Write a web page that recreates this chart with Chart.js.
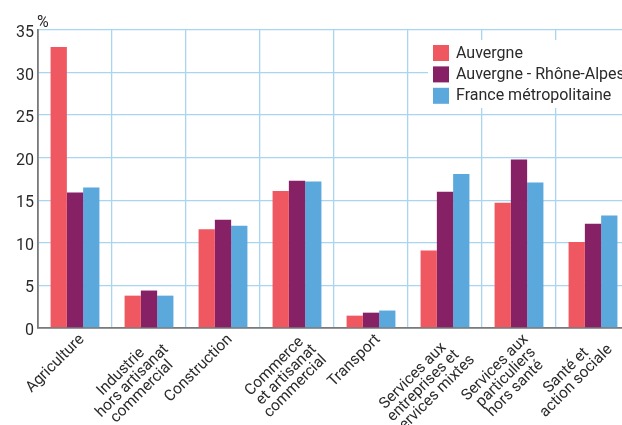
<!DOCTYPE html>
<html>
<head>
<meta charset="utf-8">
<script src="https://cdn.jsdelivr.net/npm/chart.js@4.4.1/dist/chart.umd.min.js"></script>
<style>
  html, body { margin: 0; padding: 0; background: #fff; overflow: hidden; }
  #wrap { position: relative; width: 640px; height: 425px; }
</style>
</head>
<body>
<div id="wrap"><canvas id="c"></canvas></div>
<script>
// ---- data ----
const categories = [
  ["Agriculture"],
  ["Industrie", "hors artisanat", "commercial"],
  ["Construction"],
  ["Commerce", "et artisanat", "commercial"],
  ["Transport"],
  ["Services aux", "entreprises et", "services mixtes"],
  ["Services aux", "particuliers", "hors santé"],
  ["Santé et", "action sociale"]
];
const seriesNames = ["Auvergne", "Auvergne - Rhône-Alpes", "France métropolitaine"];
const auvergne = [33.0, 3.8, 11.6, 16.1, 1.45, 9.1, 14.7, 10.1];
const auraValues = [15.9, 4.4, 12.7, 17.3, 1.8, 16.0, 19.8, 12.25];
const franceValues = [16.5, 3.8, 12.0, 17.2, 2.05, 18.1, 17.1, 13.2];
const yTicks = [0, 5, 10, 15, 20, 25, 30, 35];
const unitLabel = "%";

const colors = ["#EF5761", "#862166", "#5AA8DC"];
const FONT = "Roboto, 'Liberation Sans', Arial, sans-serif";
const TEXT = "#2a2a2a";
const GRID = "#a9d5f1";

// center multi-line rotated labels by padding with no-break spaces
const mctx = document.createElement('canvas').getContext('2d');
const XFONT = 15.5;
function centeredLines(lines) {
  mctx.font = XFONT + "px " + FONT;
  const sp = mctx.measureText("\u00A0").width;
  const widths = lines.map(l => mctx.measureText(l).width);
  const maxW = Math.max(...widths);
  return lines.map((l, i) => l + "\u00A0".repeat(Math.round((maxW - widths[i]) / 2 / sp)));
}

const legendPlugin = {
  id: 'boxLegend',
  afterDatasetsDraw(chart) {
    const ctx = chart.ctx;
    const a = chart.chartArea;
    ctx.save();
    ctx.fillStyle = "#fff";
    ctx.fillRect(a.left + 390, a.top + 10, 260, 68);
    chart.data.datasets.forEach((ds, i) => {
      const y = a.top + 15 + i * 21.4;
      ctx.fillStyle = ds.backgroundColor;
      ctx.fillRect(a.left + 395, y, 16, 16);
      ctx.fillStyle = TEXT;
      ctx.font = "16px " + FONT;
      ctx.textBaseline = "middle";
      ctx.textAlign = "left";
      ctx.fillText(ds.label, a.left + 418, y + 8.5);
    });
    // unit label above the y axis
    ctx.font = "16px " + FONT;
    ctx.textBaseline = "alphabetic";
    ctx.fillStyle = TEXT;
    ctx.fillText(unitLabel, a.left - 1, a.top - 3);
    ctx.restore();
  }
};

new Chart(document.getElementById('c'), {
  type: 'bar',
  data: {
    labels: categories.map(c => c.join(' ')),
    datasets: [
      { label: seriesNames[0], data: auvergne, backgroundColor: colors[0] },
      { label: seriesNames[1], data: auraValues, backgroundColor: colors[1] },
      { label: seriesNames[2], data: franceValues, backgroundColor: colors[2] }
    ]
  },
  options: {
    responsive: true,
    maintainAspectRatio: false,
    animation: false,
    devicePixelRatio: 1,
    layout: { padding: { top: 30, right: 10, left: 0, bottom: 0 } },
    datasets: { bar: { categoryPercentage: 0.66, barPercentage: 1.0, borderWidth: 0 } },
    plugins: { legend: { display: false }, tooltip: { enabled: false } },
    scales: {
      x: {
        grid: { color: GRID, lineWidth: 1.3, offset: true, drawTicks: false },
        border: { color: "#7a7a7a", width: 1.8 },
        ticks: {
          minRotation: 45, maxRotation: 45, autoSkip: false,
          color: TEXT, padding: 4, labelOffset: 7,
          font: { family: FONT, size: XFONT, lineHeight: 0.93 },
          callback: (v, i) => centeredLines(categories[i])
        },
        afterFit(s) { s.height = 97; }
      },
      y: {
        min: 0, max: 35,
        grid: { color: GRID, lineWidth: 1.3, drawTicks: false },
        border: { color: "#7a7a7a", width: 1.8 },
        afterBuildTicks(s) { s.ticks = yTicks.map(v => ({ value: v })); },
        ticks: {
          color: TEXT, padding: 4, labelOffset: 3,
          font: { family: FONT, size: 16 }
        },
        afterFit(s) { s.width = 38; }
      }
    }
  },
  plugins: [legendPlugin]
});
</script>
</body>
</html>
